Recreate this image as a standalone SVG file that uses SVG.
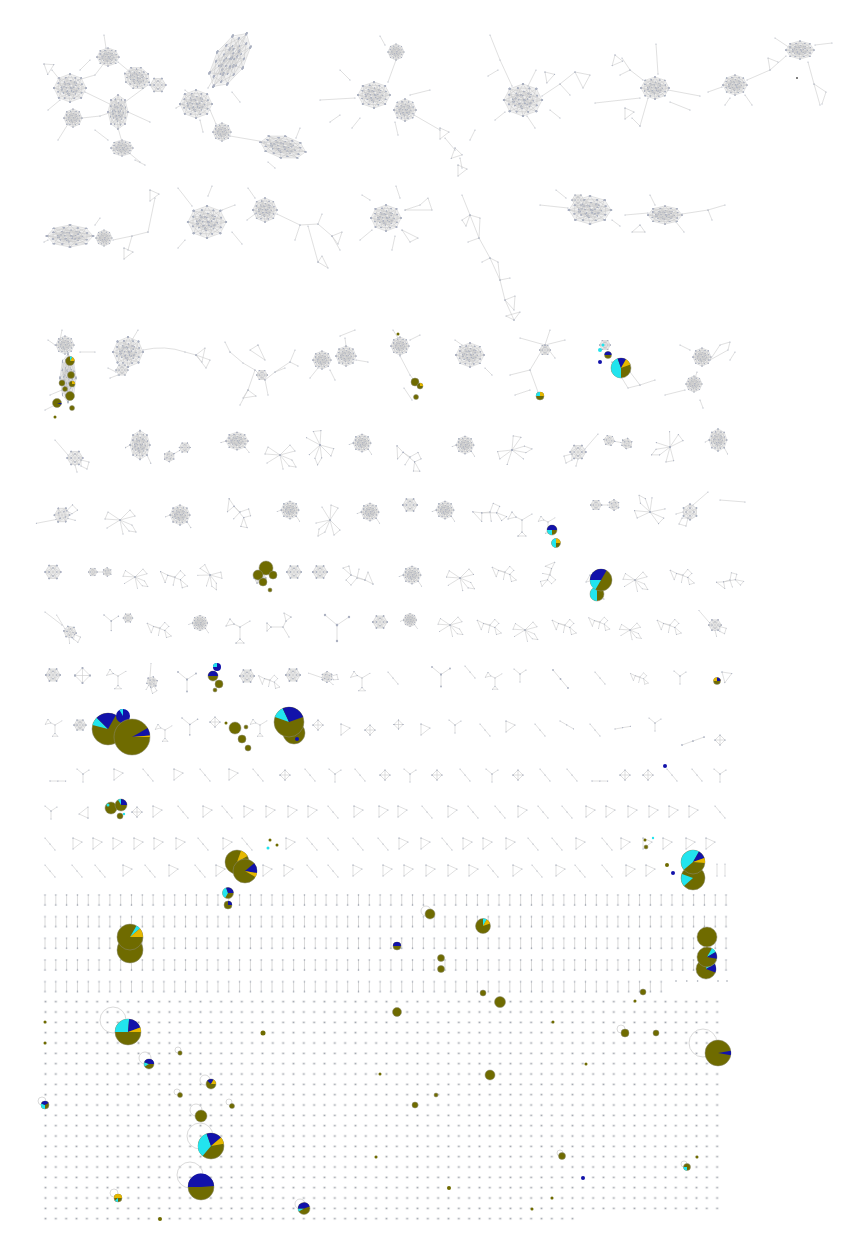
<svg xmlns="http://www.w3.org/2000/svg" xmlns:xlink="http://www.w3.org/1999/xlink" width="846" height="1244" viewBox="0 0 846 1244">
<style>
.e{fill:none;stroke:#cbcbcb;stroke-width:0.6;stroke-linejoin:round;vector-effect:non-scaling-stroke;marker-start:url(#n);marker-mid:url(#n);marker-end:url(#n)}
.f{fill:#efefef}
.o{fill:#6f6b00;stroke:#8c8c78;stroke-width:0.5}
.b{fill:#1212aa}
.c{fill:#22e4ee}
.g{fill:#e6b800}
.lp{fill:none;stroke:#d0d0d0;stroke-width:0.8}
.d{fill:#6f6b00}
</style>
<defs>
<marker id="n" viewBox="0 0 2 2" refX="1" refY="1" markerWidth="2" markerHeight="2" markerUnits="userSpaceOnUse"><circle cx="1" cy="1" r="0.6" fill="#aab0c0"/></marker>
<path id="hp" class="e" d="M-10 0L-7-7L0-10L7-7L10 0L7 7L0 10L-7 7Z M-10 0L-3-3L3-4L10 0L4 2L-1 4L-7 7 M-7-7L1 0L7 7 M0-10L-3-3L-5 1L-10 0 M7-7L4 2L0 10 M-5 1L-1 4L1 0L3-4L0-10 M-3-3L1 0L4 2 M-5 1L-7 7 M-7-7L3-4L7-7 M0 10L-1 4 M10 0L1 0L-5 1 M-7-7L-5 1 M7 7L-1 4 M-10 0L-1 4"/>
<g id="H"><ellipse rx="9" ry="9" class="f"/><use href="#hp"/><use href="#hp" transform="rotate(25) scale(0.8)"/><use href="#hp" transform="rotate(-40) scale(0.55)"/></g>
<g id="S"><ellipse rx="5.5" ry="5" class="f"/><path class="e" d="M-6 0L-3-5L3-5L6 0L3 5L-3 5Z M-6 0L6 0 M-3-5L3 5 M3-5L-3 5 M-3-5L6 0L-3 5 M3-5L-6 0L3 5 M-3 0L0-3L3 0L0 3Z"/></g>
<g id="T"><path class="e" d="M0 0L0 11L9 4Z"/></g>
<g id="L"><path class="e" d="M0 0L5 6L10 12"/></g>
<g id="Y"><path class="e" d="M0 0L6 5L12 1 M6 5L6 13"/></g>
<g id="K"><path class="e" d="M0 5L5 0L10 5L5 10Z M0 5L10 5 M5 0L5 10"/></g>
<g id="M1"><use href="#S" transform="scale(1.3)"/><path class="e" d="M-7-3L-20-18 M6 2L14 4L12 11L6 8Z M0 7L2 14"/></g>
<g id="M2"><path class="e" d="M0 0L-12-8L-15-1Z M0 0L10-10L15-4Z M0 0L3 14 M0 0L-13 8 M0 0L12 5L16 12L9 11Z"/></g>
<g id="M3"><path class="e" d="M-16-6L-8-2L-11 6Z M-8-2L0 0L6-7L11-2L6 3Z M6 3L8 12L14 10Z M0 0L-2 9"/></g>
<g id="M4"><use href="#H" transform="scale(1.1)"/><path class="e" d="M-11 0L-16 2 M8 8L12 14"/></g>
<g id="M5"><use href="#S" transform="translate(-9,0) scale(0.9)"/><use href="#S" transform="translate(9,0) rotate(30) scale(0.9)"/><path class="e" d="M-3 0L3 0"/></g>
<g id="M6"><path class="e" d="M-10-8L-14-1L-6-3Z M-6-3L0 0L10-6 M0 0L0 12 M-4 16L4 16L0 12Z"/></g>
<pattern id="pd" x="40.33" y="996.53" width="10.333" height="10.333" patternUnits="userSpaceOnUse"><rect x="3.6" y="4.1" width="3.1" height="2.1" fill="#e4e4e4"/><circle cx="5.17" cy="5.17" r="0.75" fill="#9aa0ac"/></pattern>
<pattern id="pm" x="39.6" y="893" width="10.81" height="21.667" patternUnits="userSpaceOnUse"><line x1="5.4" y1="2" x2="5.4" y2="12" stroke="#d8d8d8" stroke-width="1"/><circle cx="5.4" cy="2" r="0.8" fill="#9aa0ac"/><circle cx="5.4" cy="12" r="0.8" fill="#9aa0ac"/></pattern>
</defs>
<rect width="846" height="1244" fill="#fff"/>

<g id="connectors">
<!-- row 1 -->
<g id="r1a">
<use href="#H" transform="translate(70,88) scale(1.6,1.4)"/>
<use href="#H" transform="translate(73,118) scale(0.9)"/>
<use href="#H" transform="translate(108,57) scale(1.1,0.9)"/>
<use href="#H" transform="translate(137,78) rotate(20) scale(1.3,1.1)"/>
<use href="#S" transform="translate(158,85) scale(1.3)"/>
<use href="#H" transform="translate(118,112) scale(1,1.7)"/>
<use href="#H" transform="translate(122,148) scale(1.1,0.8)"/>
<use href="#T" transform="translate(44,64) rotate(-20)"/>
<path class="e" d="M85 92L118 108 M78 80L95 75L108 58 M118 62L130 72 M148 85L125 102 M118 128L122 142 M82 118L100 116L112 112 M104 35L106 48 M58 140L68 124 M140 162L128 152 M52 70L60 80 M128 112L150 122 M60 100L48 110 M95 130L108 140 M80 70L90 60 M135 160L145 165"/>
</g>
<g id="r1b">
<use href="#H" transform="translate(230,60) rotate(-58) scale(3.1,1.5)"/>
<use href="#H" transform="translate(196,104) scale(1.6,1.4)"/>
<use href="#H" transform="translate(222,132) scale(0.9)"/>
<use href="#H" transform="translate(283,147) rotate(12) scale(2.3,1.1)"/>
<path class="e" d="M230 136L265 142 M210 110L216 124 M240 102L232 92 M176 108L183 104 M185 90L192 96 M200 120L203 132 M208 88L214 78 M300 128L296 138 M268 162L275 168"/>
</g>
<g id="r1c">
<use href="#H" transform="translate(396,52) scale(0.8)"/>
<use href="#H" transform="translate(374,95) scale(1.6,1.3)"/>
<use href="#H" transform="translate(405,110) scale(1.1)"/>
<use href="#T" transform="translate(440,128)"/>
<use href="#T" transform="translate(455,148) rotate(20)"/>
<use href="#T" transform="translate(458,165)"/>
<path class="e" d="M320 100L355 98 M396 60L388 82 M414 115L440 130 M445 138L455 150 M460 158L462 168 M385 45L380 36 M350 80L340 70 M360 118L352 128 M395 122L398 135 M410 95L430 90 M340 115L330 122 M470 140L475 130"/>
</g>
<g id="r1d">
<use href="#H" transform="translate(523,100) scale(1.9,1.6)"/>
<use href="#T" transform="translate(545,72) rotate(-10)"/>
<path class="e" d="M490 35L500 60L512 86 M498 70L488 76 M536 70L528 86 M542 96L560 84L575 72 M560 84L570 95 M575 72L590 75L583 88Z M527 116L535 128 M505 112L495 120 M550 110L560 118"/>
</g>
<g id="r1e">
<use href="#H" transform="translate(655,88) scale(1.4,1.1)"/>
<use href="#T" transform="translate(615,55) rotate(15)"/>
<use href="#T" transform="translate(625,108)"/>
<path class="e" d="M595 103L640 98 M640 126L648 98 M622 58L630 70L643 80 M630 70L620 75 M700 96L668 90 M656 44L658 74 M670 102L690 110 M640 126L632 118"/>
</g>
<g id="r1f">
<use href="#H" transform="translate(735,85) scale(1.2,1)"/>
<use href="#H" transform="translate(800,50) scale(1.4,0.9)"/>
<path class="e" d="M708 92L722 87 M747 80L770 70L786 56 M815 45L832 43 M775 38L790 48 M808 62L814 84L820 105 M814 84L826 92L822 104 M770 70L768 58L778 62 M745 95L752 105 M730 98L725 105"/>
<circle cx="797" cy="78" r="1" fill="#555"/>
</g>
<!-- row 2 -->
<g id="r2a">
<use href="#H" transform="translate(70,236) scale(2.3,1.1)"/>
<use href="#H" transform="translate(104,238) scale(0.8)"/>
<use href="#T" transform="translate(124,248)"/>
<use href="#T" transform="translate(150,190)"/>
<path class="e" d="M44 242L48 240 M113 240L132 236L148 232 M132 236L128 250 M148 232L155 198 M95 225L100 218"/>
</g>
<g id="r2b">
<use href="#H" transform="translate(207,222) scale(1.9,1.6)"/>
<path class="e" d="M178 188L192 206 M208 196L212 186 M232 232L242 244 M185 240L178 248 M222 210L235 205"/>
</g>
<g id="r2c">
<use href="#H" transform="translate(265,210) scale(1.2)"/>
<path class="e" d="M277 214L300 225L318 224L332 236L340 250 M308 226L318 262 M255 198L248 188 M247 220L255 214 M318 262L328 268L322 256Z M332 236L342 232L338 244Z M300 225L295 240 M318 224L322 214"/>
</g>
<g id="r2d">
<use href="#H" transform="translate(386,218) scale(1.5,1.3)"/>
<path class="e" d="M360 240L372 230 M400 198L396 186 M405 210L420 205L428 198L432 210Z M402 230L410 242L418 238Z M370 200L362 195 M395 236L392 250"/>
</g>
<g id="r2e">
<path class="e" d="M462 195L470 215L479 238L490 258L500 280L505 300L514 320 M470 215L480 218L479 238 M490 258L498 262L500 280 M505 300L515 296L514 310Z M479 238L468 242 M500 280L510 278 M514 320L520 312L506 316Z M470 215L462 220L466 226Z M490 258L482 262"/>
</g>
<g id="r2f">
<use href="#H" transform="translate(590,210) scale(2.1,1.4)"/>
<use href="#S" transform="translate(578,200)"/>
<path class="e" d="M540 205L568 208 M556 190L566 198 M612 220L620 226"/>
</g>
<g id="r2g">
<use href="#H" transform="translate(665,215) scale(1.7,0.9)"/>
<path class="e" d="M625 215L648 213 M682 214L708 210L725 205 M708 210L712 220 M676 222L684 232 M640 225L632 232L645 232Z M655 205L650 195"/>
</g>
<!-- row 3 -->
<g id="r3a">
<use href="#H" transform="translate(65,345) scale(0.9)"/>
<use href="#H" transform="translate(68,378) scale(0.8,2.4)"/>
<path class="e" d="M50 395L62 390 M80 352L95 352 M45 410L55 405 M62 330L60 340 M48 340L55 345"/>
</g>
<g id="r3b">
<use href="#H" transform="translate(128,352) scale(1.5)"/>
<use href="#S" transform="translate(122,370)"/>
<path class="e" d="M143 350Q165 345 185 352L196 355 M196 355L205 348L202 362Z M196 355L210 360L206 368Z M108 368L116 372 M110 378L118 375 M138 330L132 340"/>
</g>
<g id="r3c">
<use href="#S" transform="translate(262,375) scale(0.9)"/>
<path class="e" d="M230 352L243 363L255 370L265 380L275 372L285 368 M255 370L248 390L240 405 M248 390L256 396L243 398Z M258 345L265 360L250 350Z M275 372L290 362L295 350 M265 380L268 395 M225 342L230 352 M290 362L298 366"/>
</g>
<g id="r3d">
<use href="#H" transform="translate(322,360) scale(0.9)"/>
<use href="#H" transform="translate(346,356)"/>
<path class="e" d="M340 336L355 330 M345 338L346 346 M310 378L318 368 M330 370L335 380 M356 360L368 362"/>
</g>
<g id="r3e">
<use href="#H" transform="translate(400,346) scale(0.9)"/>
<path class="e" d="M400 356L410 375L420 388 M393 330L398 338 M410 340L420 335 M404 388L412 400"/>
</g>
<g id="r3f">
<use href="#H" transform="translate(470,355) scale(1.4,1.2)"/>
<path class="e" d="M455 340L462 345 M485 368L492 375"/>
</g>
<g id="r3g">
<use href="#S" transform="translate(545,350) scale(0.9)"/>
<path class="e" d="M545 345L530 370L538 392 M545 345L520 338 M545 345L550 330 M545 345L565 340 M545 345L555 358 M530 370L510 375 M515 395L530 390"/>
</g>
<g id="r3h">
<use href="#S" transform="translate(605,345) scale(0.9)"/>
<path class="e" d="M612 362L630 372L640 385L628 388Z M640 385L655 380"/>
</g>
<g id="r3i">
<use href="#H" transform="translate(702,357) scale(0.9)"/>
<use href="#H" transform="translate(694,384) scale(0.8)"/>
<path class="e" d="M710 360L728 350L730 342L720 345Z M680 345L690 350 M697 372L695 378 M665 395L685 390 M700 400L703 408 M735 352L730 360"/>
</g>
<!-- row 4 -->
<g id="r4">
<use href="#M1" transform="translate(75,458)"/>
<use href="#M4" transform="translate(140,445) scale(0.9,1.3)"/>
<use href="#M5" transform="translate(177,452) rotate(-30)"/>
<use href="#M4" transform="translate(237,441) scale(1,0.8)"/>
<use href="#M2" transform="translate(280,455)"/>
<use href="#M2" transform="translate(320,445) rotate(60)"/>
<use href="#M4" transform="translate(362,443) scale(0.8)"/>
<use href="#M3" transform="translate(410,457) rotate(20)"/>
<use href="#M4" transform="translate(465,445) scale(0.8)"/>
<use href="#M2" transform="translate(512,450) rotate(-40)"/>
<use href="#M1" transform="translate(578,452) scale(-1,1)"/>
<use href="#M5" transform="translate(618,442) rotate(10)"/>
<use href="#M2" transform="translate(670,447) rotate(120)"/>
<use href="#M4" transform="translate(718,440) scale(0.8,1)"/>
</g>
<!-- row 5 -->
<g id="r5">
<use href="#M1" transform="translate(62,515) rotate(-60)"/>
<use href="#M2" transform="translate(120,520)"/>
<use href="#M4" transform="translate(180,515) scale(0.9)"/>
<use href="#M3" transform="translate(240,512) rotate(30)"/>
<use href="#M4" transform="translate(290,510) scale(0.8)"/>
<use href="#M2" transform="translate(330,520) rotate(90)"/>
<use href="#M4" transform="translate(370,512) scale(0.8)"/>
<use href="#S" transform="translate(410,505) scale(1.2)"/>
<use href="#M4" transform="translate(445,510) scale(0.8)"/>
<use href="#M3" transform="translate(490,512) rotate(-20)"/>
<use href="#M6" transform="translate(522,520)"/>
<use href="#M6" transform="translate(548,522) scale(0.7)"/>
<use href="#M5" transform="translate(605,505)"/>
<use href="#M2" transform="translate(650,512) rotate(200)"/>
<use href="#M1" transform="translate(690,512) rotate(90)"/>
<path class="e" d="M720 500L745 502"/>
</g>
<!-- row 6 -->
<g id="r6">
<use href="#S" transform="translate(53,572) scale(1.3)"/>
<use href="#M5" transform="translate(100,572) scale(0.8)"/>
<use href="#M2" transform="translate(135,577) scale(0.8)"/>
<use href="#M3" transform="translate(175,577) scale(0.9)"/>
<use href="#M2" transform="translate(210,575) rotate(30) scale(0.8)"/>
<use href="#S" transform="translate(260,578)"/>
<use href="#S" transform="translate(294,572) scale(1.2)"/>
<use href="#S" transform="translate(320,572) scale(1.2)"/>
<use href="#M3" transform="translate(357,578) rotate(180)"/>
<use href="#M4" transform="translate(412,575) scale(0.8)"/>
<use href="#M2" transform="translate(460,578) scale(0.9)"/>
<use href="#M3" transform="translate(505,572) scale(0.8)"/>
<use href="#M3" transform="translate(550,575) rotate(90) scale(0.8)"/>
<use href="#M6" transform="translate(600,583)"/>
<use href="#M2" transform="translate(635,580) scale(0.8)"/>
<use href="#M3" transform="translate(683,575) scale(0.8)"/>
<use href="#M3" transform="translate(730,580) rotate(-30) scale(0.8)"/>
</g>
<!-- row 7 -->
<g id="r7">
<use href="#M1" transform="translate(70,632) rotate(10) scale(0.8)"/>
<path class="e" d="M45 612L62 625"/>
<use href="#Y" transform="translate(104,615) scale(1.2)"/>
<use href="#S" transform="translate(128,618) scale(0.8)"/>
<use href="#M3" transform="translate(160,628) scale(0.8)"/>
<use href="#M4" transform="translate(200,623) scale(0.7)"/>
<use href="#M6" transform="translate(240,627)"/>
<use href="#M6" transform="translate(283,627) rotate(90)"/>
<use href="#Y" transform="translate(325,615) scale(2)"/>
<use href="#S" transform="translate(380,622) scale(1.2)"/>
<use href="#M4" transform="translate(410,620) scale(0.6)"/>
<use href="#M2" transform="translate(450,625) scale(0.8)"/>
<use href="#M3" transform="translate(490,625) scale(0.8)"/>
<use href="#M2" transform="translate(525,630) scale(0.8)"/>
<use href="#M3" transform="translate(565,625) scale(0.8)"/>
<use href="#M3" transform="translate(600,622) scale(0.7)"/>
<use href="#M2" transform="translate(630,630) scale(0.7)"/>
<use href="#M3" transform="translate(670,625) scale(0.8)"/>
<use href="#M1" transform="translate(715,625) scale(0.8)"/>
</g>
<!-- row 8 -->
<g id="r8">
<use href="#S" transform="translate(53,675) scale(1.2)"/>
<use href="#K" transform="translate(75,668) scale(1.5)"/>
<use href="#M6" transform="translate(118,676) scale(0.8)"/>
<use href="#M1" transform="translate(152,682) rotate(45) scale(0.7)"/>
<use href="#Y" transform="translate(178,672) scale(1.5)"/>
<use href="#S" transform="translate(247,676) scale(1.2)"/>
<use href="#M3" transform="translate(270,680) scale(0.7)"/>
<use href="#S" transform="translate(293,675) scale(1.2)"/>
<use href="#M1" transform="translate(327,677) rotate(-30) scale(0.7)"/>
<use href="#M6" transform="translate(362,678) scale(0.8)"/>
<use href="#L" transform="translate(388,672)"/>
<use href="#Y" transform="translate(432,667) scale(1.5)"/>
<use href="#L" transform="translate(465,666)"/>
<use href="#M6" transform="translate(495,678) scale(0.7)"/>
<use href="#Y" transform="translate(514,669)"/>
<use href="#L" transform="translate(553,670) scale(1.5)"/>
<use href="#L" transform="translate(595,672)"/>
<use href="#M3" transform="translate(640,677) scale(0.6)"/>
<use href="#Y" transform="translate(674,671)"/>
<use href="#T" transform="translate(722,672) rotate(-15)"/>
</g>
<!-- row 9 -->
<g id="r9">
<use href="#M6" transform="translate(55,725) scale(0.7)"/>
<use href="#S" transform="translate(80,725)"/>
<use href="#M6" transform="translate(165,730) scale(0.7)"/>
<use href="#Y" transform="translate(182,718) scale(1.3)"/>
<use href="#K" transform="translate(210,717)"/>
<use href="#M6" transform="translate(260,725) scale(0.7)"/>
<use href="#K" transform="translate(313,720)"/>
<use href="#T" transform="translate(341,724)"/>
<use href="#K" transform="translate(365,725)"/>
<use href="#K" transform="translate(394,720) scale(0.9)"/>
<use href="#T" transform="translate(421,724)"/>
<use href="#Y" transform="translate(449,720)"/>
<use href="#L" transform="translate(480,724)"/>
<use href="#T" transform="translate(506,721)"/>
<use href="#L" transform="translate(535,724)"/>
<use href="#L" transform="translate(560,721) rotate(-20)"/>
<use href="#L" transform="translate(590,724)"/>
<use href="#L" transform="translate(615,729) rotate(-60)"/>
<use href="#Y" transform="translate(649,718)"/>
<use href="#L" transform="translate(682,745) rotate(-70) scale(1.5)"/>
<use href="#K" transform="translate(715,735)"/>
</g>
<!-- row 10 -->
<g id="r10">
<use href="#L" transform="translate(50,781) rotate(-50)"/>
<use href="#Y" transform="translate(77,769)"/>
<use href="#T" transform="translate(114,769)"/>
<use href="#L" transform="translate(143,769)"/>
<use href="#T" transform="translate(174,769)"/>
<use href="#L" transform="translate(200,769)"/>
<use href="#T" transform="translate(229,769)"/>
<use href="#L" transform="translate(253,769)"/>
<use href="#K" transform="translate(280,770)"/>
<use href="#L" transform="translate(305,769)"/>
<use href="#Y" transform="translate(329,769)"/>
<use href="#L" transform="translate(355,769)"/>
<use href="#K" transform="translate(380,770)"/>
<use href="#Y" transform="translate(404,769)"/>
<use href="#K" transform="translate(432,770)"/>
<use href="#L" transform="translate(460,769)"/>
<use href="#Y" transform="translate(486,769)"/>
<use href="#K" transform="translate(513,770)"/>
<use href="#L" transform="translate(540,769)"/>
<use href="#L" transform="translate(567,769)"/>
<use href="#L" transform="translate(592,781) rotate(-50)"/>
<use href="#K" transform="translate(620,770)"/>
<use href="#K" transform="translate(643,770)"/>
<use href="#L" transform="translate(667,769)"/>
<use href="#L" transform="translate(692,769)"/>
<use href="#Y" transform="translate(714,769)"/>
</g>
<!-- row 11 -->
<g id="r11">
<use href="#Y" transform="translate(45,806)"/>
<use href="#T" transform="translate(88,818) rotate(180)"/>
<use href="#K" transform="translate(132,807)"/>
<use href="#T" transform="translate(153,806)"/>
<use href="#L" transform="translate(178,806)"/>
<use href="#T" transform="translate(203,806)"/>
<use href="#L" transform="translate(222,806)"/>
<use href="#T" transform="translate(244,806)"/>
<use href="#T" transform="translate(266,806)"/>
<use href="#T" transform="translate(288,806)"/>
<use href="#T" transform="translate(308,806)"/>
<use href="#L" transform="translate(328,806)"/>
<use href="#T" transform="translate(354,806)"/>
<use href="#T" transform="translate(379,806)"/>
<use href="#T" transform="translate(398,806)"/>
<use href="#L" transform="translate(422,806)"/>
<use href="#T" transform="translate(448,806)"/>
<use href="#L" transform="translate(468,806)"/>
<use href="#L" transform="translate(495,806)"/>
<use href="#T" transform="translate(518,806)"/>
<use href="#L" transform="translate(538,806)"/>
<use href="#L" transform="translate(562,806)"/>
<use href="#T" transform="translate(586,806)"/>
<use href="#T" transform="translate(606,806)"/>
<use href="#T" transform="translate(628,806)"/>
<use href="#T" transform="translate(649,806)"/>
<use href="#T" transform="translate(669,806)"/>
<use href="#T" transform="translate(689,806)"/>
<use href="#L" transform="translate(715,806)"/>
</g>
<!-- row 12 -->
<g id="r12">
<use href="#L" transform="translate(45,838)"/>
<use href="#T" transform="translate(73,838)"/>
<use href="#T" transform="translate(93,838)"/>
<use href="#T" transform="translate(113,838)"/>
<use href="#T" transform="translate(134,838)"/>
<use href="#T" transform="translate(154,838)"/>
<use href="#T" transform="translate(176,838)"/>
<use href="#L" transform="translate(198,838)"/>
<use href="#T" transform="translate(223,838)"/>
<use href="#L" transform="translate(242,838)"/>
<use href="#T" transform="translate(286,838)"/>
<use href="#L" transform="translate(307,838)"/>
<use href="#L" transform="translate(328,838)"/>
<use href="#L" transform="translate(353,838)"/>
<use href="#L" transform="translate(378,838)"/>
<use href="#T" transform="translate(399,838)"/>
<use href="#T" transform="translate(421,838)"/>
<use href="#L" transform="translate(442,838)"/>
<use href="#T" transform="translate(463,838)"/>
<use href="#T" transform="translate(483,838)"/>
<use href="#T" transform="translate(506,838)"/>
<use href="#L" transform="translate(528,838)"/>
<use href="#L" transform="translate(552,838)"/>
<use href="#T" transform="translate(576,838)"/>
<use href="#L" transform="translate(602,838)"/>
<use href="#T" transform="translate(621,838)"/>
<use href="#T" transform="translate(643,838)"/>
<use href="#T" transform="translate(663,838)"/>
<use href="#T" transform="translate(686,838)"/>
<use href="#T" transform="translate(706,838)"/>
</g>
<!-- row 13 -->
<g id="r13">
<use href="#L" transform="translate(45,865)"/>
<use href="#L" transform="translate(72,865)"/>
<use href="#L" transform="translate(95,865)"/>
<use href="#T" transform="translate(123,865)"/>
<use href="#L" transform="translate(145,865)"/>
<use href="#T" transform="translate(169,865)"/>
<use href="#L" transform="translate(195,865)"/>
<use href="#T" transform="translate(216,865)"/>
<use href="#T" transform="translate(263,865)"/>
<use href="#T" transform="translate(284,865)"/>
<use href="#L" transform="translate(307,865)"/>
<use href="#L" transform="translate(328,865)"/>
<use href="#T" transform="translate(353,865)"/>
<use href="#T" transform="translate(383,865)"/>
<use href="#T" transform="translate(404,865)"/>
<use href="#T" transform="translate(426,865)"/>
<use href="#T" transform="translate(448,865)"/>
<use href="#T" transform="translate(469,865)"/>
<use href="#L" transform="translate(488,865)"/>
<use href="#T" transform="translate(513,865)"/>
<use href="#L" transform="translate(532,865)"/>
<use href="#T" transform="translate(556,865)"/>
<use href="#L" transform="translate(575,865)"/>
<use href="#L" transform="translate(602,865)"/>
<use href="#T" transform="translate(626,865)"/>
<use href="#T" transform="translate(646,865)"/>
<path class="e" d="M717 864L717 876 M725 864L725 876"/>
</g>
<!-- dimers and isolated nodes -->
<g id="grid">
<rect x="39.6" y="893" width="691.8" height="86.67" fill="url(#pm)"/>
<rect x="39.6" y="979.67" width="627" height="21.667" fill="url(#pm)"/>
<rect x="40.33" y="996.53" width="682" height="217" fill="url(#pd)"/>
<rect x="40.33" y="1213.53" width="537.3" height="10.333" fill="url(#pd)"/>
<g fill="#9aa0ac"><circle cx="676" cy="981" r="0.8"/><circle cx="686.8" cy="981" r="0.8"/><circle cx="697.6" cy="981" r="0.8"/><circle cx="718" cy="981" r="0.8"/><circle cx="727" cy="981" r="0.8"/></g>
</g>
<!-- self loops -->
<g id="loops">
<circle class="lp" cx="113" cy="1020" r="13"/>
<circle class="lp" cx="145" cy="1058" r="6"/>
<circle class="lp" cx="205" cy="1080" r="5"/>
<circle class="lp" cx="196" cy="1110" r="6"/>
<circle class="lp" cx="200" cy="1136" r="13"/>
<circle class="lp" cx="190" cy="1175" r="13"/>
<circle class="lp" cx="114" cy="1193" r="4"/>
<circle class="lp" cx="300" cy="1204" r="5"/>
<circle class="lp" cx="42" cy="1101" r="4"/>
<circle class="lp" cx="178" cy="1050" r="3"/>
<circle class="lp" cx="177" cy="1092" r="3"/>
<circle class="lp" cx="229" cy="1102" r="3"/>
<circle class="lp" cx="621" cy="1029" r="4"/>
<circle class="lp" cx="703" cy="1043" r="14"/>
<circle class="lp" cx="426" cy="911" r="5"/>
<circle class="lp" cx="560" cy="1153" r="3"/>
<circle class="lp" cx="684" cy="1164" r="3"/>
</g>
</g>

<g id="pies">
<g id="p3a">
<circle class="o" cx="70" cy="361" r="4.5"/><path class="g" d="M70 361L72.3 357.1A4.5 4.5 0 0 1 74.5 361Z"/><path class="c" d="M70 361L70 356.5A4.5 4.5 0 0 1 72.3 357.1Z"/>
<circle class="o" cx="71" cy="375" r="3.5"/>
<circle class="o" cx="62" cy="383" r="3"/>
<circle class="o" cx="72" cy="384" r="3"/><path class="g" d="M72 384L72 381A3 3 0 0 1 75 384Z"/>
<circle class="o" cx="65" cy="389" r="2.5"/>
<circle class="o" cx="70" cy="396" r="4.5"/>
<circle class="o" cx="57" cy="403" r="4.5"/><path class="b" d="M57 403L61.5 403A4.5 4.5 0 0 1 61.2 404.5Z"/>
<circle class="o" cx="72" cy="408" r="2.5"/>
<circle class="d" cx="55" cy="417" r="1.5"/>
</g>
<g id="p3e">
<circle class="o" cx="415" cy="382" r="4"/>
<circle class="o" cx="420" cy="386" r="3"/><path class="g" d="M420 386L420 383A3 3 0 0 1 423 386Z"/>
<circle class="o" cx="416" cy="397" r="2.5"/>
<circle class="d" cx="398" cy="334" r="1.5"/>
</g>
<g id="p3g">
<circle class="o" cx="540" cy="396" r="4"/><path class="c" d="M540 396L536 396A4 4 0 0 1 540 392Z"/><path class="g" d="M540 396L540 392A4 4 0 0 1 544 396Z"/>
</g>
<g id="p3h">
<circle class="c" cx="600" cy="350" r="2"/>
<circle class="c" cx="603" cy="345" r="1.5"/>
<circle class="o" cx="608" cy="355" r="3.5"/><path class="b" d="M608 355L604.5 355A3.5 3.5 0 0 1 611.5 355Z"/>
<circle class="b" cx="600" cy="362" r="2"/>
<circle class="o" cx="621" cy="368" r="10"/>
<path class="c" d="M621 368L621 378A10 10 0 0 1 617.6 358.6Z"/>
<path class="b" d="M621 368L617.6 358.6A10 10 0 0 1 626 359.3Z"/>
<path class="g" d="M621 368L626 359.3A10 10 0 0 1 630.4 364.6Z"/>
</g>
<g id="p5">
<circle class="o" cx="552" cy="530" r="5"/><path class="b" d="M552 530L547 530A5 5 0 0 1 557 530Z"/><path class="c" d="M552 530L552 535A5 5 0 0 1 547 530Z"/>
<circle class="o" cx="556" cy="543" r="4.5"/><path class="c" d="M556 543L556 547.5A4.5 4.5 0 0 1 556 538.5Z"/><path class="g" d="M556 543L556 538.5A4.5 4.5 0 0 1 560.5 543Z"/>
</g>
<g id="p6a">
<circle class="o" cx="266" cy="568" r="7"/>
<circle class="o" cx="258" cy="575" r="5"/>
<circle class="o" cx="273" cy="575" r="4"/>
<circle class="o" cx="263" cy="582" r="4"/>
<circle class="o" cx="270" cy="590" r="2"/>
</g>
<g id="p6b">
<circle class="o" cx="597" cy="594" r="7"/><path class="c" d="M597 594L597 601A7 7 0 0 1 597 587Z"/>
<circle class="o" cx="601" cy="580" r="11"/>
<path class="c" d="M601 580L595.5 589.5A11 11 0 0 1 590 580Z"/>
<path class="b" d="M601 580L590 580A11 11 0 0 1 606.5 570.5Z"/>
</g>
<g id="p8">
<circle class="o" cx="215" cy="690" r="2"/>
<circle class="o" cx="219" cy="684" r="4"/>
<circle class="o" cx="213" cy="676" r="5"/><path class="b" d="M213 676L208 676A5 5 0 0 1 218 676Z"/>
<circle class="b" cx="217" cy="667" r="4"/><path class="c" d="M217 667L213 667A4 4 0 0 1 217 663Z"/>
<circle class="o" cx="717" cy="681" r="3.5"/><path class="g" d="M717 681L713.5 681A3.5 3.5 0 0 1 720.5 681Z"/><path class="b" d="M717 681L717 677.5A3.5 3.5 0 0 1 720.5 681Z"/>
</g>
<g id="p9a">
<circle class="o" cx="108" cy="729" r="16"/>
<path class="c" d="M108 729L92.5 724.9A16 16 0 0 1 96.7 717.7Z"/>
<path class="b" d="M108 729L96.7 717.7A16 16 0 0 1 116 715.1Z"/>
<circle class="b" cx="123" cy="716" r="7"/><path class="c" d="M123 716L119.5 709.9A7 7 0 0 1 123 709Z"/>
<circle class="o" cx="132" cy="737" r="18"/>
<path class="b" d="M132 737L147.6 728A18 18 0 0 1 149.9 735.4Z"/>
<path class="g" d="M132 737L149.9 735.4A18 18 0 0 1 150 737Z"/>
</g>
<g id="p9b">
<circle class="o" cx="235" cy="728" r="6"/>
<circle class="o" cx="242" cy="739" r="4"/>
<circle class="o" cx="248" cy="748" r="3"/>
<circle class="d" cx="226" cy="723" r="1.5"/>
<circle class="o" cx="246" cy="727" r="2"/>
</g>
<g id="p9c">
<circle class="o" cx="294" cy="733" r="11"/>
<circle class="b" cx="297" cy="739" r="2"/>
<circle class="o" cx="289" cy="722" r="15"/>
<path class="c" d="M289 722L274.9 716.9A15 15 0 0 1 282.7 708.4Z"/>
<path class="b" d="M289 722L282.7 708.4A15 15 0 0 1 303.1 716.9Z"/>
</g>
<g id="p10"><circle class="b" cx="665" cy="766" r="2"/></g>
<g id="p11">
<circle class="o" cx="111" cy="808" r="6"/><circle class="c" cx="108" cy="805" r="1.5"/>
<circle class="o" cx="121" cy="805" r="6"/><path class="b" d="M121 805L121 799A6 6 0 0 1 127 805Z"/><path class="c" d="M121 805L118 799.8A6 6 0 0 1 121 799Z"/>
<circle class="o" cx="120" cy="816" r="3"/><circle class="c" cx="124" cy="814" r="1.2"/>
</g>
<g id="p12">
<circle class="d" cx="270" cy="840" r="1.5"/><circle class="d" cx="277" cy="845" r="1.5"/><circle class="c" cx="268" cy="848" r="1.5"/>
<circle class="d" cx="645" cy="840" r="1.5"/><circle class="c" cx="653" cy="838" r="1.2"/><circle class="o" cx="646" cy="847" r="2"/>
</g>
<g id="p13a">
<circle class="o" cx="237" cy="862" r="12"/>
<path class="g" d="M237 862L241.1 850.7A12 12 0 0 1 247.4 856Z"/>
<circle class="o" cx="245" cy="871" r="12"/>
<path class="b" d="M245 871L254.2 863.3A12 12 0 0 1 256.8 873.1Z"/>
<path class="g" d="M245 871L256.8 873.1A12 12 0 0 1 255.4 877Z"/>
<circle class="o" cx="228" cy="893" r="5.5"/>
<path class="c" d="M228 893L225.3 897.8A5.5 5.5 0 0 1 226.1 887.8Z"/>
<path class="b" d="M228 893L226.1 887.8A5.5 5.5 0 0 1 233.5 893Z"/>
<circle class="o" cx="228" cy="905" r="4"/><path class="b" d="M228 905L228 901A4 4 0 0 1 232 905Z"/>
</g>
<g id="p13b">
<circle class="d" cx="667" cy="865" r="2"/>
<circle class="b" cx="673" cy="873" r="2"/>
<circle class="o" cx="693" cy="878" r="12"/>
<path class="c" d="M693 878L684 885.9A12 12 0 0 1 682 874Z"/>
<circle class="o" cx="693" cy="862" r="12"/>
<path class="c" d="M693 862L683.8 869.7A12 12 0 0 1 699 851.6Z"/>
<path class="b" d="M693 862L699 851.6A12 12 0 0 1 704.3 857.9Z"/>
<path class="g" d="M693 862L704.3 857.9A12 12 0 0 1 705 863Z"/>
</g>
<g id="pd1">
<circle class="o" cx="430" cy="914" r="5"/>
<circle class="o" cx="483" cy="926" r="7.5"/>
<path class="c" d="M483 926L483 918.5A7.5 7.5 0 0 1 486.8 919.5Z"/>
<path class="g" d="M483 926L486.8 919.5A7.5 7.5 0 0 1 490 923.4Z"/>
<circle class="o" cx="130" cy="950" r="13"/>
<circle class="o" cx="130" cy="937" r="13"/>
<path class="c" d="M130 937L136.5 925.7A13 13 0 0 1 140 928.6Z"/>
<path class="g" d="M130 937L140 928.6A13 13 0 0 1 143 937Z"/>
<circle class="o" cx="397" cy="946" r="4"/><path class="b" d="M397 946L393 946A4 4 0 0 1 401 946Z"/>
<circle class="o" cx="441" cy="958" r="3.5"/>
<circle class="o" cx="441" cy="969" r="3.5"/>
<circle class="o" cx="707" cy="937" r="10"/>
<circle class="o" cx="706" cy="969" r="10"/>
<path class="c" d="M706 969L707.7 959.2A10 10 0 0 1 714.7 964Z"/>
<path class="b" d="M706 969L714.7 964A10 10 0 0 1 715.4 972.4Z"/>
<circle class="o" cx="707" cy="957" r="10"/>
<path class="c" d="M707 957L712 948.3A10 10 0 0 1 715.7 952Z"/>
<path class="b" d="M707 957L715.7 952A10 10 0 0 1 716.8 958.7Z"/>
</g>
<g id="pd2">
<circle class="o" cx="128" cy="1032" r="13"/>
<path class="c" d="M128 1032L115 1032A13 13 0 0 1 129.1 1019.1Z"/>
<path class="b" d="M128 1032L129.1 1019.1A13 13 0 0 1 140.2 1027.6Z"/>
<path class="g" d="M128 1032L140.2 1027.6A13 13 0 0 1 141 1032Z"/>
<circle class="o" cx="149" cy="1064" r="5"/>
<path class="c" d="M149 1064L144.7 1066.5A5 5 0 0 1 144.3 1062.3Z"/>
<path class="b" d="M149 1064L144.3 1062.3A5 5 0 0 1 154 1064Z"/>
<circle class="o" cx="211" cy="1084" r="5"/>
<path class="b" d="M211 1084L207.2 1080.8A5 5 0 0 1 213.5 1079.7Z"/>
<path class="g" d="M211 1084L213.5 1079.7A5 5 0 0 1 216 1084Z"/>
<circle class="o" cx="180" cy="1053" r="2.2"/>
<circle class="o" cx="180" cy="1095" r="2.5"/>
<circle class="o" cx="232" cy="1106" r="2.5"/>
<circle class="o" cx="201" cy="1116" r="6"/>
<circle class="o" cx="211" cy="1146" r="13"/>
<path class="c" d="M211 1146L202.6 1156A13 13 0 0 1 206.6 1133.8Z"/>
<path class="b" d="M211 1146L206.6 1133.8A13 13 0 0 1 221 1137.6Z"/>
<path class="g" d="M211 1146L221 1137.6A13 13 0 0 1 223.8 1143.7Z"/>
<circle class="o" cx="201" cy="1187" r="13"/>
<path class="b" d="M201 1187L188 1187A13 13 0 0 1 214 1185.9Z"/>
<circle class="o" cx="118" cy="1198" r="4"/>
<path class="g" d="M118 1198L114 1198A4 4 0 0 1 122 1198Z"/>
<path class="c" d="M118 1198L118 1202A4 4 0 0 1 115 1200.6Z"/>
<circle class="o" cx="304" cy="1208.5" r="6"/>
<path class="c" d="M304 1208.5L298.8 1211.5A6 6 0 0 1 298 1208.5Z"/>
<path class="b" d="M304 1208.5L298 1208.5A6 6 0 0 1 309.6 1206.5Z"/>
<circle class="o" cx="45" cy="1105" r="4"/>
<path class="c" d="M45 1105L45 1109A4 4 0 0 1 41.2 1103.6Z"/>
<path class="b" d="M45 1105L41.2 1103.6A4 4 0 0 1 48.5 1103Z"/>
<circle class="o" cx="718" cy="1053" r="13"/>
<path class="b" d="M718 1053L730.8 1050.7A13 13 0 0 1 730.8 1055.3Z"/>
<circle class="o" cx="643" cy="992" r="3"/>
<circle class="o" cx="625" cy="1033" r="4"/>
<circle class="o" cx="656" cy="1033" r="3"/>
<circle class="d" cx="635" cy="1001" r="1.5"/>
<circle class="o" cx="397" cy="1012" r="4.5"/>
<circle class="o" cx="490" cy="1075" r="5"/>
<circle class="o" cx="483" cy="993" r="3"/>
<circle class="o" cx="500" cy="1002" r="5.5"/>
<circle class="o" cx="415" cy="1105" r="3"/>
<circle class="o" cx="436" cy="1095" r="2"/>
<circle class="o" cx="562" cy="1156" r="3.5"/>
<circle class="o" cx="687" cy="1167" r="3.5"/><path class="c" d="M687 1167L687 1170.5A3.5 3.5 0 0 1 683.5 1167Z"/>
<circle class="b" cx="583" cy="1178" r="2"/>
<circle class="d" cx="449" cy="1188" r="2"/>
<circle class="d" cx="552" cy="1198" r="1.5"/>
<circle class="d" cx="532" cy="1209" r="1.5"/>
<circle class="d" cx="263" cy="1033" r="2.5"/>
<circle class="d" cx="231" cy="1106" r="1.5"/>
<circle class="d" cx="160" cy="1219" r="2"/>
<circle class="d" cx="45" cy="1043" r="1.5"/>
<circle class="d" cx="45" cy="1022" r="1.5"/>
<circle class="d" cx="586" cy="1064" r="1.5"/>
<circle class="d" cx="697" cy="1157" r="1.5"/>
<circle class="d" cx="376" cy="1157" r="1.5"/>
<circle class="d" cx="380" cy="1074" r="1.5"/>
<circle class="d" cx="553" cy="1022" r="1.5"/>
</g>
</g>
</svg>
